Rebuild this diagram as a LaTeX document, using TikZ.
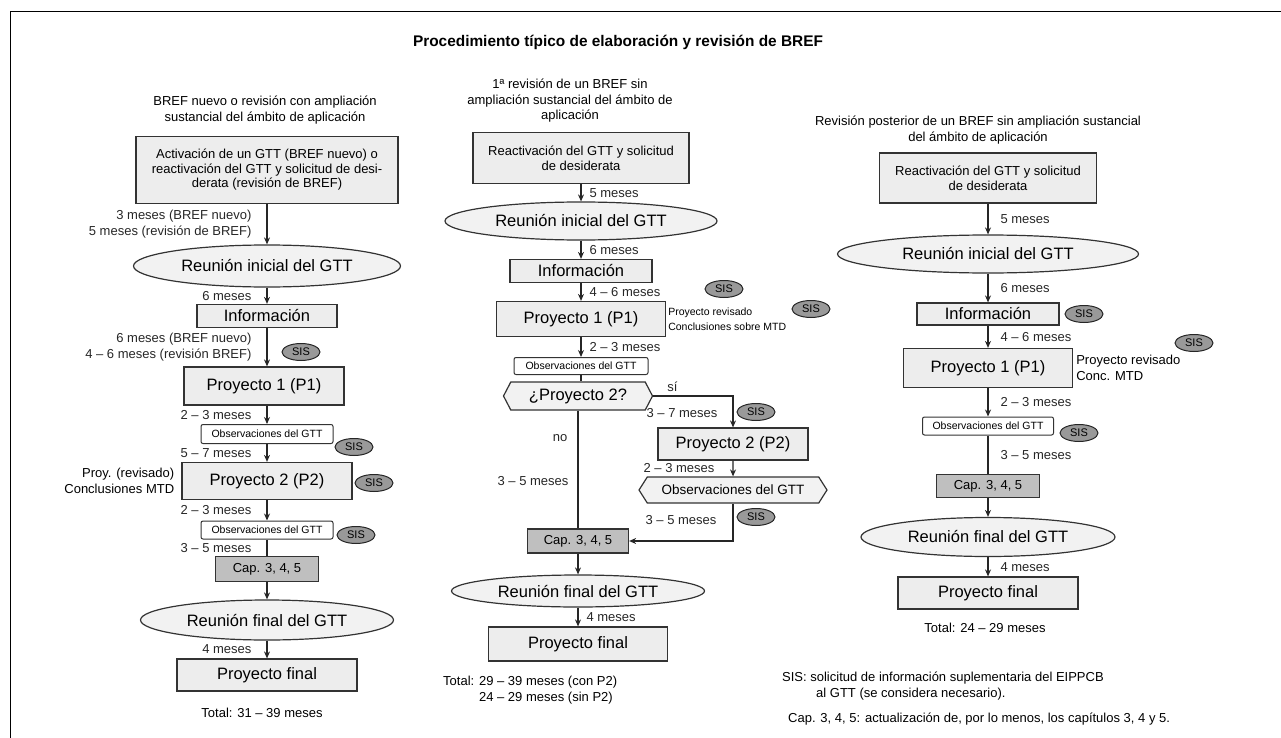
\documentclass[tikz,border=0pt]{standalone}
\usepackage{fontspec}
\setmainfont{Liberation Sans}
\usetikzlibrary{shapes.geometric,shapes.symbols,arrows.meta,positioning}

\begin{document}
\begin{tikzpicture}[x=1pt, y=-1pt,
    sz/.style 2 args={minimum width=#1pt, minimum height=#2pt},
    box/.style={draw=black!80, line width=1.2pt, fill=black!7, inner sep=0pt, align=center, font=\fontsize{16.5}{19}\selectfont},
    capbox/.style={box, fill=black!25, font=\fontsize{13}{15}\selectfont},
    obsbox/.style={draw=black!80, line width=1pt, fill=white, rounded corners=2pt, inner sep=0pt, font=\fontsize{10.5}{12}\selectfont},
    meet/.style={ellipse, draw=black!80, line width=1.2pt, fill=black!5, inner sep=0pt, font=\fontsize{16.5}{19}\selectfont},
    hexa/.style={signal, signal to=west and east, draw=black!80, line width=1.2pt, fill=black!5, inner sep=0pt},
    sis/.style={ellipse, draw=black!85, line width=1pt, fill=black!40, inner sep=0pt, minimum width=38pt, minimum height=17pt, font=\fontsize{11}{12}\selectfont},
    lbl/.style={inner sep=0pt, align=right, font=\fontsize{13}{15.5}\selectfont},
    sidetxt/.style={inner sep=0pt, align=left, font=\fontsize{10.5}{15}\selectfont},
    arr/.style={-{Stealth[length=7pt, width=6pt]}, line width=1.1pt, black!85},
    link/.style={line width=1.1pt, black!85}]
    \useasboundingbox (0,0) rectangle (1281,738);
    % frame and title
    \draw[line width=1pt] (10,738) -- (10,12) -- (1281,12);
    \node[font=\bfseries\fontsize{15.4}{18}\selectfont] (title) at (618,42) {Procedimiento típico de elaboración y revisión de BREF};

    % column 1: BREF nuevo
    \node[lbl, align=center] (hdrA) at (265,110) {BREF nuevo o revisión con ampliación\\sustancial del ámbito de aplicación};
    \node[box, sz={262}{67}, font=\fontsize{13}{14.5}\selectfont] (actA) at (267,170) {Activación de un GTT (BREF nuevo) o\\reactivación del GTT y solicitud de desi-\\derata (revisión de BREF)};
    \node[meet, sz={267}{42}] (iniA) at (267,266) {Reunión inicial del GTT};
    \node[box, sz={140}{23}] (infA) at (267,316) {Información};
    \node[box, sz={160}{38}] (p1A) at (264,386) {Proyecto 1 (P1)};
    \node[obsbox, sz={132}{19}] (obs1A) at (267,434) {Observaciones del GTT};
    \node[box, sz={170}{37}] (p2A) at (267,481) {Proyecto 2 (P2)};
    \node[obsbox, sz={132}{18}] (obs2A) at (267,530) {Observaciones del GTT};
    \node[capbox, sz={103}{25}] (capA) at (267,569) {Cap. 3, 4, 5};
    \node[meet, sz={253}{40}] (finA) at (267,620) {Reunión final del GTT};
    \node[box, sz={180}{32}] (pfA) at (267,675) {Proyecto final};
    \node[lbl] (totA) at (262,713) {Total: 31 – 39 meses};
    \node[lbl, left=7pt of p2A] (revA) {Proy. (revisado)\\Conclusiones MTD};
    \draw[arr] (actA) -- node[lbl, left=15pt] (tA1) {3 meses (BREF nuevo)\\5 meses (revisión de BREF)} (iniA);
    \draw[arr] (iniA) -- node[lbl, left=15pt] (tA2) {6 meses} (infA);
    \draw[arr] (infA) -- node[lbl, left=15pt] (tA3) {6 meses (BREF nuevo)\\4 – 6 meses (revisión BREF)} (infA |- p1A.north);
    \draw[arr] (p1A.south -| obs1A) -- node[lbl, left=15pt] (tA4) {2 – 3 meses} (obs1A);
    \draw[arr] (obs1A) -- node[lbl, left=15pt] (tA5) {5 – 7 meses} (p2A);
    \draw[arr] (p2A) -- node[lbl, left=15pt] (tA6) {2 – 3 meses} (obs2A);
    \draw[link] (obs2A) -- node[lbl, left=15pt] (tA7) {3 – 5 meses} (capA);
    \draw[arr] (capA) -- (finA);
    \draw[arr] (finA) -- node[lbl, left=15pt] (tA8) {4 meses} (pfA);
    \node[sis] (sA1) at (301,352) {SIS};
    \node[sis] (sA2) at (354,447) {SIS};
    \node[sis] (sA3) at (374,483) {SIS};
    \node[sis] (sA4) at (356,535) {SIS};

    % column 2: 1a revision
    \node[lbl, align=center] (hdrB) at (570,101) {1ª revisión de un BREF sin\\ampliación sustancial del ámbito de\\aplicación};
    \node[box, sz={216}{51}, font=\fontsize{13}{15}\selectfont] (reB) at (581,158) {Reactivación del GTT y solicitud\\de desiderata};
    \node[meet, sz={272}{38}] (iniB) at (581,221) {Reunión inicial del GTT};
    \node[box, sz={142}{23}] (infB) at (581,271) {Información};
    \node[box, sz={169}{35}] (p1B) at (581,319) {Proyecto 1 (P1)};
    \node[obsbox, sz={134}{17}] (obsB) at (581,366) {Observaciones del GTT};
    \node[hexa, sz={149}{28}, signal pointer angle=125, font=\fontsize{16.5}{19}\selectfont] (decB) at (578,396) {¿Proyecto 2?};
    \node[box, sz={150}{32}] (p2B) at (733,444) {Proyecto 2 (P2)};
    \node[hexa, sz={188}{26}, signal pointer angle=115, font=\fontsize{13.5}{15}\selectfont] (obs3B) at (733,490) {Observaciones del GTT};
    \node[capbox, sz={101}{24}] (capB) at (578,541) {Cap. 3, 4, 5};
    \node[meet, sz={253}{32}] (finB) at (578,591) {Reunión final del GTT};
    \node[box, sz={179}{34}] (pfB) at (578,644) {Proyecto final};
    \node[lbl, align=left, anchor=west] (totB) at (443,690) {Total: 29 – 39 meses (con P2)\\\phantom{Total: }24 – 29 meses (sin P2)};
    \node[sidetxt, right=2pt of p1B] (revB) {Proyecto revisado\\Conclusiones sobre MTD};
    \draw[arr] (reB) -- node[lbl, right=8pt] (tB1) {5 meses} (iniB);
    \draw[arr] (iniB) -- node[lbl, right=8pt] (tB2) {6 meses} (infB);
    \draw[arr] (infB) -- node[lbl, right=8pt] (tB3) {4 – 6 meses} (p1B);
    \draw[arr] (p1B) -- node[lbl, right=8pt] (tB4) {2 – 3 meses} (obsB);
    \draw[link] (obsB) -- (obsB |- decB.north);
    \draw[arr] (decB.east) -| node[lbl, pos=0.12, above=4pt] (tB5) {sí}
        node[lbl, pos=0.77, left=15pt] (tB6) {3 – 7 meses} (p2B.north);
    \draw[arr] (p2B) -- node[lbl, left=18pt] (tB7) {2 – 3 meses} (obs3B);
    \draw[arr] (obs3B.south) |- node[lbl, pos=0.22, left=16pt] (tB8) {3 – 5 meses} (capB.east);
    \draw[link] (decB.south) -- node[lbl, pos=0.235, left=10pt] (tB9) {no}
        node[lbl, pos=0.6, left=9pt] (tB10) {3 – 5 meses} (capB.north);
    \draw[arr] (capB) -- (finB);
    \draw[arr] (finB) -- node[lbl, right=8pt] (tB11) {4 meses} (pfB);
    \node[sis] (sB1) at (724,289) {SIS};
    \node[sis] (sB2) at (811,309) {SIS};
    \node[sis] (sB3) at (756,412) {SIS};
    \node[sis] (sB4) at (756,517) {SIS};

    % column 3: revision posterior
    \node[lbl, align=center] (hdrC) at (978,130) {Revisión posterior de un BREF sin ampliación sustancial\\del ámbito de aplicación};
    \node[box, sz={217}{50}, font=\fontsize{13}{15}\selectfont] (reC) at (988,178) {Reactivación del GTT y solicitud\\de desiderata};
    \node[meet, sz={301}{38}] (iniC) at (988,254) {Reunión inicial del GTT};
    \node[box, sz={142}{22}] (infC) at (988,314) {Información};
    \node[box, sz={169}{39}] (p1C) at (988,368) {Proyecto 1 (P1)};
    \node[obsbox, sz={131}{18}] (obsC) at (988,426) {Observaciones del GTT};
    \node[capbox, sz={103}{23}] (capC) at (988,486) {Cap. 3, 4, 5};
    \node[meet, sz={254}{39}] (finC) at (988,537) {Reunión final del GTT};
    \node[box, sz={180}{32}] (pfC) at (988,593) {Proyecto final};
    \node[lbl] (totC) at (985,628) {Total: 24 – 29 meses};
    \node[lbl, align=left, right=3pt of p1C] (revC) {Proyecto revisado\\Conc. MTD};
    \draw[arr] (reC) -- node[lbl, right=12pt] (tC1) {5 meses} (iniC);
    \draw[arr] (iniC) -- node[lbl, right=12pt] (tC2) {6 meses} (infC);
    \draw[arr] (infC) -- node[lbl, right=12pt] (tC3) {4 – 6 meses} (p1C);
    \draw[arr] (p1C) -- node[lbl, right=12pt] (tC4) {2 – 3 meses} (obsC);
    \draw[link] (obsC) -- node[lbl, right=12pt] (tC5) {3 – 5 meses} (capC);
    \draw[arr] (capC) -- (finC);
    \draw[arr] (finC) -- node[lbl, right=12pt] (tC6) {4 meses} (pfC);
    \node[sis] (sC1) at (1084,314) {SIS};
    \node[sis] (sC2) at (1194,343) {SIS};
    \node[sis] (sC3) at (1079,433) {SIS};

    % legend
    \node[lbl, align=left, anchor=north west] (legA) at (782,672) {SIS: solicitud de información suplementaria del EIPPCB\\\hspace*{34pt}al GTT (se considera necesario).};
    \node[lbl, align=left, anchor=west] (legB) at (788,719) {Cap. 3, 4, 5: actualización de, por lo menos, los capítulos 3, 4 y 5.};
\end{tikzpicture}
\end{document}
